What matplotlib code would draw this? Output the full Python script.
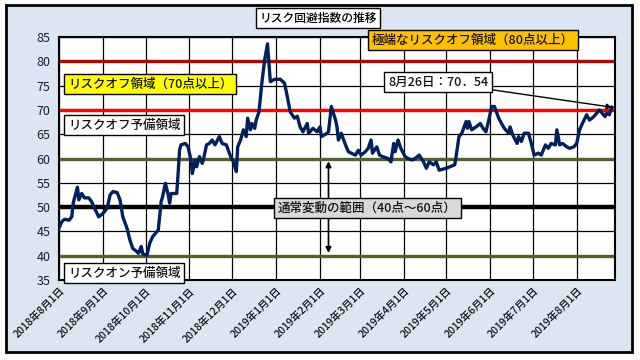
import pandas as pd
import numpy as np
import matplotlib
matplotlib.use('Agg')
import matplotlib.pyplot as plt
import matplotlib.dates as mdates
from matplotlib.patches import Rectangle

plt.rcParams['font.family'] = ['Noto Sans CJK JP', 'DejaVu Sans']

#data (days counted from 2018-08-01)
start = pd.Timestamp('2018-08-01')
day_offsets = [0, 2, 4, 7, 9, 10, 13, 14, 16, 18, 21, 23, 25, 28, 31, 34, 36, 38, 41, 43,
               45, 48, 50, 52, 55, 56, 58, 59, 62, 64, 66, 70, 72, 73, 75, 77, 78, 79, 83, 84,
               85, 86, 89, 91, 93, 94, 96, 97, 99, 101, 102, 104, 106, 108, 110, 113, 115, 118, 121, 123,
               125, 126, 128, 130, 132, 133, 135, 136, 138, 139, 141, 143, 145, 147, 149, 152, 156, 159, 161, 163,
               166, 168, 170, 172, 175, 176, 179, 182, 184, 185, 189, 190, 192, 195, 196, 197, 199, 202, 204, 206,
               209, 211, 213, 216, 218, 220, 221, 224, 226, 228, 232, 234, 236, 237, 239, 241, 244, 246, 249, 251,
               254, 257, 259, 261, 264, 266, 268, 273, 279, 280, 282, 284, 287, 288, 289, 291, 294, 297, 299, 301,
               303, 305, 307, 310, 312, 314, 317, 318, 320, 323, 324, 326, 328, 331, 333, 335, 338, 340, 343, 345,
               347, 350, 351, 353, 355, 358, 360, 363, 365, 367, 369, 372, 374, 377, 379, 381, 383, 385, 386, 388,
               389, 390]
risk_index = [45.7, 47.0, 47.5, 47.3, 48.0, 50.8, 54.1, 51.5, 52.8, 51.9, 51.9, 51.1, 49.8, 48.0, 48.7, 49.8, 52.5, 53.2, 53.0, 51.5,
              48.0, 45.6, 43.2, 41.5, 40.8, 40.5, 41.9, 40.4, 40.1, 42.6, 43.9, 45.3, 51.1, 52.1, 54.9, 52.5, 50.8, 52.8, 52.8, 57.0,
              61.8, 62.8, 63.1, 62.4, 59.7, 56.9, 59.7, 58.3, 60.4, 59.0, 60.0, 62.8, 63.1, 63.8, 62.8, 64.5, 63.1, 62.8, 60.4, 59.3,
              57.3, 62.4, 63.8, 65.9, 64.5, 68.3, 65.9, 67.2, 66.2, 67.9, 69.6, 75.5, 80.3, 83.6, 75.8, 76.3, 76.3, 75.5, 72.7, 69.6,
              68.3, 68.7, 66.5, 65.5, 67.2, 65.2, 66.2, 65.5, 66.5, 64.5, 65.2, 65.5, 70.7, 67.9, 66.5, 63.8, 65.2, 62.8, 61.4, 61.1,
              60.7, 61.7, 60.7, 61.4, 62.1, 63.8, 61.1, 62.4, 60.7, 60.4, 60.0, 59.3, 63.1, 61.4, 63.8, 62.1, 60.4, 60.0, 59.7, 60.0,
              60.7, 59.3, 58.0, 59.3, 58.7, 59.3, 57.6, 58.0, 58.7, 60.5, 64.5, 65.2, 67.6, 66.2, 67.6, 65.9, 66.5, 67.2, 66.2, 65.5,
              67.9, 70.7, 70.7, 68.3, 67.2, 66.2, 65.2, 66.5, 64.8, 63.1, 64.5, 63.5, 65.2, 65.2, 63.1, 60.7, 61.1, 60.7, 62.8, 62.1,
              63.1, 62.8, 65.9, 62.8, 63.1, 62.4, 62.1, 62.4, 63.1, 65.9, 67.2, 69.0, 67.9, 68.6, 69.3, 70.0, 69.3, 68.6, 69.3, 69.0,
              70.0, 70.54]
dates = start + pd.to_timedelta(day_offsets, unit='D')

tick_dates = pd.date_range('2018-08-01', '2019-08-01', freq='MS')
tick_labels = [f'{d.year}年{d.month}月1日' for d in tick_dates]
y_ticks = [35, 40, 45, 50, 55, 60, 65, 70, 75, 80, 85]

#levels: value, color, width
levels = [(80, '#C00000', 2.4), (70, '#FF0000', 2.4), (60, '#4F6228', 2.4),
          (50, '#000000', 3.2), (40, '#4F6228', 2.4)]

#plot
fig = plt.figure(figsize=(6.4, 3.6), dpi=100)
fig.patch.set_facecolor('white')
fig.patches.append(Rectangle((6/640, 1-352/360), 626/640, 347/360, transform=fig.transFigure,
                             facecolor='#DCE6F2', edgecolor='black', linewidth=2, zorder=-10))

ax = fig.add_axes([59/640, 1-280/360, 556/640, 243/360])
ax.set_facecolor('white')

for t in tick_dates:
    ax.axvline(t, color='black', lw=0.9, zorder=1)
for y in y_ticks:
    ax.axhline(y, color='black', lw=0.9, zorder=1)
for val, col, w in levels:
    ax.axhline(val, color=col, lw=w, zorder=2)

ax.plot(dates, risk_index, color='#002060', lw=2.4, zorder=4, solid_joinstyle='round')

ax.set_xlim(pd.Timestamp('2018-08-01'), pd.Timestamp('2019-08-28'))
ax.set_ylim(35, 85)
ax.set_yticks(y_ticks)
ax.set_xticks(tick_dates)
ax.set_xticklabels(tick_labels, rotation=45, ha='right', rotation_mode='anchor', fontsize=7.5,
                   fontweight='medium')
ax.tick_params(axis='y', labelsize=9, length=0, pad=6, colors='#1a1a3a')
ax.tick_params(axis='x', length=0, pad=4, colors='#111111')
for s in ax.spines.values():
    s.set_color('black')
    s.set_linewidth(1.5)

#double arrow for the normal range
arrow_date = pd.Timestamp('2019-02-07')
ax.annotate('', xy=(arrow_date, 60), xytext=(arrow_date, 40),
            arrowprops=dict(arrowstyle='<|-|>', color='black', lw=1.2, mutation_scale=8), zorder=5)

box = lambda fc: dict(boxstyle='square,pad=0.3', facecolor=fc, edgecolor='black', linewidth=1)
txt = dict(fontsize=9, va='center', ha='left', fontweight='medium', color='#111111', zorder=6)
ax.text(0.016, 0.807, 'リスクオフ領域（70点以上）', transform=ax.transAxes, bbox=box('#FFFF00'), **txt)
ax.text(0.016, 0.638, 'リスクオフ予備領域', transform=ax.transAxes, bbox=box('white'), **txt)
ax.text(0.016, 0.029, 'リスクオン予備領域', transform=ax.transAxes, bbox=box('white'), **txt)
ax.text(0.563, 0.988, '極端なリスクオフ領域（80点以上）', transform=ax.transAxes,
        bbox=box('#FFC000'), clip_on=False, **txt)
ax.text(0.394, 0.296, '通常変動の範囲（40点～60点）', transform=ax.transAxes, bbox=box('#D9D9D9'), **txt)

ax.annotate('8月26日：70．54', xy=(dates[-1], risk_index[-1]), xytext=(0.592, 0.815),
            textcoords='axes fraction', bbox=box('white'),
            arrowprops=dict(arrowstyle='-|>', color='black', lw=1, mutation_scale=8,
                            shrinkA=0, shrinkB=0), **txt)

fig.text(318/640, 1-18/360, 'リスク回避指数の推移', fontsize=8.5, ha='center', va='center',
         fontweight='medium', bbox=box('white'))

plt.savefig('out.png', dpi=100)
